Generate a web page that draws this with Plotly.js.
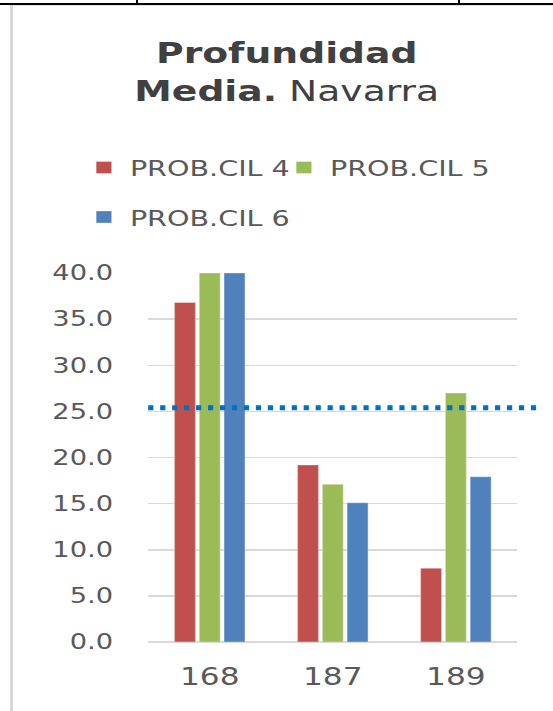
<!DOCTYPE html>
<html>
<head>
<meta charset="utf-8">
<script src="https://cdn.plot.ly/plotly-3.0.1.min.js"></script>
<style>
  html, body { margin: 0; padding: 0; background: #fff; overflow: hidden; }
  body { width: 553px; height: 711px; position: relative; }
  /* the source picture is horizontally stretched, so draw narrow and stretch */
  #chart { position: absolute; left: 0; top: 0; width: 425px; height: 711px;
           transform: scaleX(1.3); transform-origin: 0 0; }
  .rule { position: absolute; }
</style>
</head>
<body>
<div id="chart"></div>
<div class="rule" style="left:0;top:3px;width:553px;height:2px;background:#000"></div>
<div class="rule" style="left:136px;top:0;width:2px;height:4px;background:#000"></div>
<div class="rule" style="left:458px;top:0;width:2px;height:4px;background:#000"></div>
<div class="rule" style="left:10px;top:5px;width:543px;height:1px;background:#e3e3e3"></div>
<div class="rule" style="left:10px;top:5px;width:3px;height:706px;background:#d9d9d9"></div>
<script>
const categorias = ["168", "187", "189"]
const nombresSeries = ["PROB.CIL 4", "PROB.CIL 5", "PROB.CIL 6"]
const probCil4 = [36.8, 19.2, 8.0]
const probCil5 = [40.0, 17.1, 27.0]
const probCil6 = [40.0, 15.1, 17.9]
const mediaNavarra = 25.4
const coloresSeries = ["#C0504D", "#9BBB59", "#4F81BD"]

const font = "DejaVu Sans, Verdana, sans-serif"
const legendNames = ["legend", "legend2", "legend3"]

const data = [probCil4, probCil5, probCil6].map((vals, i) => ({
  type: "bar",
  x: categorias,
  y: vals,
  name: nombresSeries[i],
  legend: legendNames[i],
  marker: {color: coloresSeries[i], line: {color: "rgba(255,255,255,0.35)", width: 1}},
  hoverinfo: "skip"
}))

const legendBase = {
  xref: "container", yref: "container", yanchor: "middle", xanchor: "left",
  orientation: "h", bgcolor: "rgba(0,0,0,0)",
  font: {family: font, size: 22, color: "#595959"}
}

const layout = {
  width: 425, height: 711,
  paper_bgcolor: "#fff", plot_bgcolor: "#fff",
  margin: {l: 113.8, r: 26.9, t: 273.3, b: 68.7, pad: 0},
  title: {
    text: "<b>Profundidad</b><br><b>Media.</b> Navarra",
    font: {family: font, size: 29, color: "#404040"},
    xref: "container", x: 0.519, xanchor: "center",
    yref: "container", y: 0.911, yanchor: "top"
  },
  barmode: "group",
  bargap: 0.396,
  bargroupgap: 0.15,
  xaxis: {
    type: "category",
    showgrid: false, zeroline: false, showline: false, ticks: "",
    tickfont: {family: font, size: 24, color: "#595959"},
    ticklabelstandoff: 18
  },
  yaxis: {
    range: [0, 40], dtick: 5, tickformat: ".1f",
    showgrid: true, gridcolor: "#d9d9d9", gridwidth: 1.5,
    zeroline: true, zerolinecolor: "#d9d9d9", zerolinewidth: 1.5,
    showline: false, ticks: "",
    tickfont: {family: font, size: 21, color: "#595959"},
    ticklabelstandoff: 26
  },
  shapes: [{
    type: "line", layer: "above",
    xref: "paper", x0: 0, x1: 1.0555,
    yref: "y", y0: mediaNavarra, y1: mediaNavarra,
    line: {color: "#0070C0", width: 5, dash: "4px,5.2px"}
  }],
  showlegend: true,
  legend: {...legendBase, x: 0.141, y: 0.7641},
  legend2: {...legendBase, x: 0.503, y: 0.7641},
  legend3: {...legendBase, x: 0.141, y: 0.6944}
}

Plotly.newPlot("chart", data, layout, {displayModeBar: false, staticPlot: true})
</script>
</body>
</html>
